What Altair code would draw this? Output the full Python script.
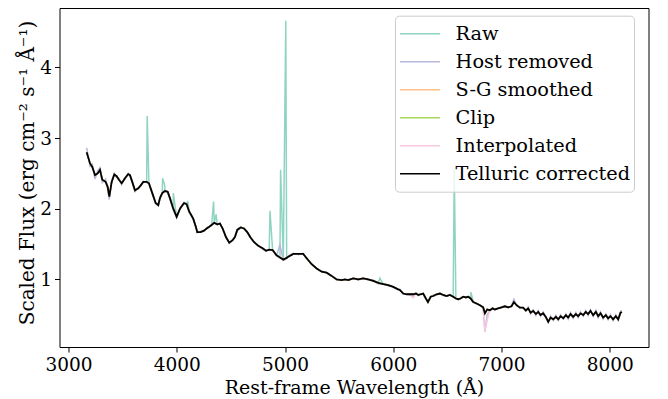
import altair as alt
import pandas as pd

# ---------------- data ----------------
wave = [3168, 3199, 3220, 3245, 3270, 3291, 3312, 3343, 3362, 3377, 3399,
        3423, 3445, 3466, 3491, 3522, 3552, 3568, 3589, 3614, 3645, 3667, 3691, 3722, 3743,
        3774, 3805, 3829, 3845, 3866, 3891, 3916, 3937, 3968, 3999, 4030,
        4067, 4091, 4115, 4152, 4177, 4189, 4221, 4251, 4276, 4300, 4322, 4346, 4374, 4399, 4424,
        4454, 4485, 4516, 4537, 4559, 4590, 4621, 4651, 4683, 4713, 4753, 4793, 4824, 4854, 4885,
        4922, 4953, 4984,
        5015, 5030, 5076, 5122, 5168, 5200, 5246, 5292, 5338, 5384, 5430, 5477, 5523, 5553, 5584,
        5630, 5676, 5722, 5768, 5815, 5861, 5907, 5953, 5999, 6045, 6061,
        6092, 6123, 6153, 6184, 6209, 6230, 6252, 6276, 6301, 6320, 6345, 6369, 6400, 6431, 6461,
        6492, 6523, 6553, 6578, 6599, 6621, 6646, 6671, 6692, 6714, 6738, 6769, 6800, 6830, 6846,
        6867, 6892, 6917, 6938, 6969, 7000, 7031, 7061, 7092, 7114,
        7139, 7169, 7200, 7224, 7246, 7268, 7292, 7317, 7338, 7360, 7384, 7409, 7431, 7453, 7477,
        7502, 7523, 7545, 7570, 7594, 7615, 7637, 7661, 7686, 7707, 7729, 7754, 7778, 7799, 7821,
        7846, 7871, 7892, 7914, 7938, 7963, 7984, 8006, 8030, 8055, 8077, 8099, 8111]

telluric = [2.80, 2.64, 2.59, 2.475, 2.50, 2.55, 2.41, 2.38, 2.31, 2.17, 2.38,
            2.485, 2.46, 2.41, 2.36, 2.43, 2.49, 2.475, 2.38, 2.26, 2.29, 2.33, 2.38, 2.38, 2.36,
            2.22, 2.08, 2.05, 2.15, 2.22, 2.25, 2.24, 2.15, 2.00, 1.885, 2.00,
            2.08, 2.065, 1.96, 1.86, 1.74, 1.67, 1.67, 1.69, 1.72, 1.745, 1.77, 1.80, 1.78, 1.79, 1.72,
            1.60, 1.52, 1.555, 1.60, 1.70, 1.735, 1.72, 1.67, 1.59, 1.53, 1.475, 1.44, 1.405, 1.42, 1.415,
            1.34, 1.31, 1.28,
            1.305, 1.32, 1.36, 1.36, 1.36, 1.30, 1.215, 1.155, 1.11, 1.095, 1.05, 1.00, 0.99, 1.00, 0.99,
            1.015, 1.00, 1.015, 1.00, 0.98, 0.95, 0.935, 0.92, 0.895, 0.86, 0.85,
            0.80, 0.79, 0.79, 0.79, 0.80, 0.78, 0.79, 0.80, 0.73, 0.68, 0.755, 0.765, 0.79, 0.80, 0.78,
            0.765, 0.78, 0.755, 0.73, 0.72, 0.73, 0.755, 0.745, 0.755, 0.73, 0.68, 0.66, 0.635, 0.605, 0.52,
            0.575, 0.565, 0.59, 0.575, 0.59, 0.605, 0.62, 0.605, 0.62, 0.68,
            0.635, 0.60, 0.60, 0.56, 0.59, 0.53, 0.555, 0.51, 0.54, 0.495, 0.52, 0.47, 0.40, 0.46, 0.435,
            0.47, 0.435, 0.48, 0.45, 0.495, 0.46, 0.51, 0.47, 0.51, 0.48, 0.52, 0.495, 0.54, 0.51, 0.555,
            0.495, 0.54, 0.48, 0.52, 0.46, 0.495, 0.45, 0.48, 0.435, 0.48, 0.435, 0.53, 0.54]

host = [2.86, 2.60, 2.63, 2.42, 2.54, 2.58, 2.37, 2.42, 2.27, 2.13, 2.40,
        2.50, 2.44, 2.43, 2.34, 2.44, 2.50, 2.46, 2.37, 2.24, 2.30, 2.32, 2.39, 2.37, 2.35,
        2.21, 2.07, 2.04, 2.16, 2.23, 2.26, 2.22, 2.14, 1.98, 1.87, 2.01,
        2.09, 2.06, 1.95, 1.85, 1.73, 1.66, 1.68, 1.68, 1.73, 1.74, 1.78, 1.81, 1.77, 1.80, 1.71,
        1.60, 1.51, 1.56, 1.60, 1.71, 1.74, 1.72, 1.66, 1.59, 1.52, 1.48, 1.43, 1.41, 1.42, 1.41,
        1.34, 1.49, 1.27,
        1.30, 1.33, 1.37, 1.35, 1.37, 1.29, 1.22, 1.15, 1.12, 1.09, 1.06, 0.99, 1.00, 0.99, 1.00,
        1.02, 0.99, 1.02, 0.99, 0.99, 0.94, 0.94, 0.91, 0.90, 0.85, 0.86,
        0.79, 0.80, 0.78, 0.76, 0.81, 0.77, 0.80, 0.79, 0.72, 0.69, 0.75, 0.78, 0.78, 0.81, 0.77,
        0.77, 0.79, 0.75, 0.74, 0.71, 0.74, 0.75, 0.75, 0.76, 0.72, 0.69, 0.65, 0.64, 0.60, 0.26,
        0.50, 0.56, 0.60, 0.57, 0.60, 0.60, 0.63, 0.60, 0.63, 0.72,
        0.63, 0.61, 0.59, 0.55, 0.61, 0.51, 0.57, 0.49, 0.56, 0.48, 0.54, 0.45, 0.39, 0.48, 0.42,
        0.49, 0.42, 0.50, 0.44, 0.51, 0.44, 0.53, 0.45, 0.53, 0.46, 0.54, 0.48, 0.56, 0.49, 0.57,
        0.48, 0.56, 0.46, 0.54, 0.44, 0.51, 0.43, 0.50, 0.42, 0.50, 0.42, 0.55, 0.56]

# emission-line peaks in the raw spectrum
raw_line_wave = [3727, 3869, 3889, 3968, 4102, 4340, 4363, 4861, 4959, 5007, 5876, 6563, 6717]
raw_line_peak = [3.31, 2.43, 2.33, 2.22, 2.11, 2.10, 1.92, 1.97, 2.55, 4.66, 1.02, 2.57, 0.82]

# telluric-band region as it looks before the telluric correction
interp_wave = [6184, 6846, 6867]
interp_flux = [0.74, 0.27, 0.42]

series_order = ["Raw", "Host removed", "S-G smoothed", "Clip", "Interpolated", "Telluric corrected"]
series_colors = ["#8fd4c2", "#b8b7dc", "#fdbf8c", "#a8d85a", "#f7c6df", "#000000"]

x_ticks = [3000, 4000, 5000, 6000, 7000, 8000]
y_ticks = [1, 2, 3, 4]

# ---------------- build table ----------------
rows = []
for w, f in sorted(zip(wave + raw_line_wave, telluric + raw_line_peak)):
    rows.append({"wave": w, "flux": f, "series": "Raw"})
for w, f in zip(wave, host):
    rows.append({"wave": w, "flux": f, "series": "Host removed"})
for w, f in zip(wave, telluric):
    rows.append({"wave": w, "flux": f, "series": "S-G smoothed"})
    rows.append({"wave": w, "flux": f, "series": "Clip"})
interp_map = dict(zip(interp_wave, interp_flux))
for w, f in zip(wave, telluric):
    rows.append({"wave": w, "flux": interp_map.get(w, f), "series": "Interpolated"})
for w, f in zip(wave, telluric):
    rows.append({"wave": w, "flux": f, "series": "Telluric corrected"})
df = pd.DataFrame(rows)

FONT = "DejaVu Serif"

color = alt.Color(
    "series:N",
    scale=alt.Scale(domain=series_order, range=series_colors),
    legend=alt.Legend(
        title=None, orient="none", legendX=335.5, legendY=7.7,
        symbolType="stroke", symbolSize=1600, symbolStrokeWidth=1.5,
        clipHeight=28, rowPadding=0, labelOffset=14.6,
        labelFont=FONT, labelFontSize=19.3, labelColor="black", labelLimit=400,
        padding=4, fillColor="rgba(255,255,255,0.8)", strokeColor="#cccccc",
        cornerRadius=4,
    ),
)

x = alt.X("wave:Q",
          scale=alt.Scale(domain=[2917, 8357], nice=False, zero=False),
          axis=alt.Axis(values=x_ticks, format="d", title="Rest-frame Wavelength (Å)",
                        labelPadding=3, titlePadding=5))
y = alt.Y("flux:Q",
          scale=alt.Scale(domain=[0.044, 4.839], nice=False, zero=False),
          axis=alt.Axis(values=y_ticks, format="d",
                        title="Scaled Flux (erg cm⁻² s⁻¹ Å⁻¹)", titleFontSize=20,
                        labelPadding=3, titlePadding=2, titleY=164.5))

layers = []
for s in series_order:
    sw = 1.8 if s == "Telluric corrected" else 1.5
    layers.append(
        alt.Chart(df).transform_filter(alt.datum.series == s)
        .mark_line(strokeWidth=sw, clip=True)
        .encode(x=x, y=y, color=color)
    )

chart = alt.layer(*layers).properties(
    width=589, height=339,
    autosize=alt.AutoSizeParams(type="none"),
    padding={"left": 51.5, "top": 0, "right": 10, "bottom": 52},
).configure_view(
    stroke="black", strokeWidth=1
).configure_axis(
    labelFont=FONT, titleFont=FONT, labelFontSize=18.5, titleFontSize=19,
    titleFontWeight="normal", labelColor="black", titleColor="black",
    tickColor="black", tickSize=5, tickWidth=1, grid=False, domain=False,
)

chart.save("out.html", embed_options={"renderer": "svg", "actions": False})
